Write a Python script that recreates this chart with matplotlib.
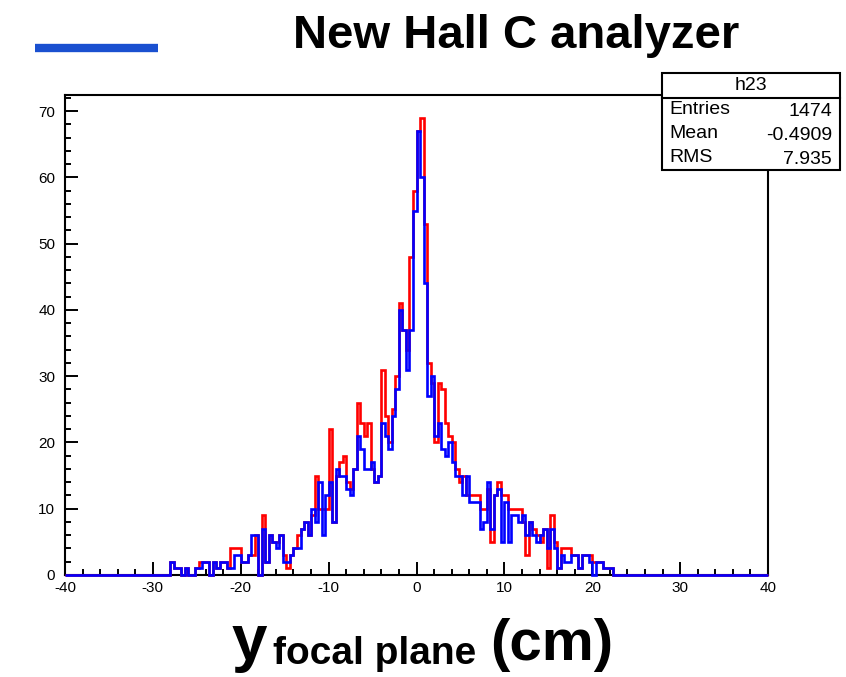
import numpy as np
import matplotlib
matplotlib.use("Agg")
import matplotlib.pyplot as plt
from matplotlib.ticker import MultipleLocator
from matplotlib.patches import Rectangle
from matplotlib.lines import Line2D

# histogram binning (ROOT style, 200 bins over -40..40)
X_MIN, X_MAX, N_BINS = -40.0, 40.0, 200
FIRST_EDGE = -28.0   # left edge of the first filled bin

# counts per 0.4 cm bin starting at FIRST_EDGE (old analyzer, red)
red_counts = [
    2, 1, 1, 0, 1, 0, 0, 1, 2, 2,
    2, 0, 2, 1, 2, 2, 1, 4, 4, 4,
    2, 2, 3, 3, 6, 0, 9, 2, 6, 5,
    5, 6, 3, 1, 3, 4, 6, 7, 8, 6,
    9, 15, 10, 10, 10, 22, 8, 15, 17, 18,
    14, 13, 16, 26, 23, 21, 23, 16, 14, 15,
    31, 24, 20, 25, 30, 41, 37, 34, 48, 58,
    67, 69, 53, 32, 29, 20, 29,
    28, 23, 21, 20, 16, 14, 15, 12, 12, 12,
    12, 10, 10, 13, 5, 12, 14, 12, 12, 10,
    10, 10, 10, 8, 3, 8, 7, 6, 5, 7,
    1, 9, 5, 1, 4, 4, 4, 3, 3, 1,
    3, 3, 3, 2, 2, 2, 1, 1, 1,
]

# new Hall C analyzer (blue)
blue_counts = [
    2, 1, 1, 0, 1, 0, 0, 1, 1, 2,
    2, 0, 2, 1, 2, 2, 1, 1, 3, 3,
    2, 2, 3, 6, 6, 0, 7, 2, 6, 5,
    4, 6, 2, 2, 3, 4, 4, 7, 8, 6,
    10, 8, 14, 6, 12, 14, 8, 16, 15, 15,
    13, 12, 16, 21, 19, 16, 16, 17, 14, 15,
    23, 21, 19, 24, 28, 40, 37, 31, 37, 55,
    67, 60, 44, 27, 30, 21, 23,
    19, 18, 20, 17, 15, 15, 12, 15, 11, 11,
    11, 7, 8, 14, 7, 12, 13, 5, 11, 5,
    9, 9, 8, 9, 6, 8, 6, 5, 6, 7,
    4, 7, 4, 1, 3, 2, 2, 3, 3, 1,
    3, 3, 2, 0, 2, 2, 1, 1, 1,
]

title = "New Hall C analyzer"
stats_name = "h23"
stats_labels = ["Entries", "Mean", "RMS"]
stats_values = ["1474", "-0.4909", "7.935"]

W, H = 846, 677
FONT = ["Liberation Sans", "DejaVu Sans"]


def fx(px):
    return px / W


def fy(py):
    return 1 - py / H


def pad_counts(counts, edges):
    full = np.zeros(N_BINS)
    start = int(round((FIRST_EDGE - X_MIN) / (edges[1] - edges[0])))
    full[start:start + len(counts)] = counts
    return full


def main():
    plt.rcParams["font.family"] = FONT
    plt.rcParams["axes.unicode_minus"] = False
    edges = np.linspace(X_MIN, X_MAX, N_BINS + 1)

    fig = plt.figure(figsize=(W / 100, H / 100), dpi=100)
    ax = fig.add_axes([fx(65), fy(575), fx(768) - fx(65), fy(95) - fy(575)])

    ax.stairs(pad_counts(red_counts, edges), edges, color="#ff0000",
              lw=1.9, zorder=3, clip_on=False)
    ax.stairs(pad_counts(blue_counts, edges), edges, color="#0000ff",
              lw=1.9, zorder=4, clip_on=False)

    ax.set_xlim(X_MIN, X_MAX)
    ax.set_ylim(0, 72.45)
    ax.xaxis.set_major_locator(MultipleLocator(10))
    ax.xaxis.set_minor_locator(MultipleLocator(2))
    ax.yaxis.set_major_locator(MultipleLocator(10))
    ax.yaxis.set_minor_locator(MultipleLocator(2))
    ax.tick_params(which="both", direction="in", top=False, right=False,
                   width=1.4, labelsize=11)
    ax.tick_params(which="major", length=9.5)
    ax.tick_params(which="minor", length=4.5)
    ax.tick_params(axis="x", pad=4)
    ax.tick_params(axis="y", pad=7)
    for s in ax.spines.values():
        s.set_linewidth(1.5)

    # title and legend line
    fig.text(fx(293), fy(48), title, fontsize=34, fontweight="bold",
             ha="left", va="baseline")
    fig.add_artist(Line2D([fx(35), fx(158)], [fy(47.5), fy(47.5)],
                          color="#1a50d0", lw=6, solid_capstyle="butt"))

    # x axis label
    fig.text(fx(232), fy(660), "y", fontsize=46, fontweight="bold",
             ha="left", va="baseline")
    fig.text(fx(273), fy(664), "focal plane", fontsize=28, fontweight="bold",
             ha="left", va="baseline")
    fig.text(fx(490), fy(660), "(cm)", fontsize=42, fontweight="bold",
             ha="left", va="baseline")

    # stats box
    bx0, bx1, by0, by1, hy = 662, 840, 73, 170, 98
    fig.add_artist(Rectangle((fx(bx0), fy(by1)), fx(bx1) - fx(bx0),
                             fy(by0) - fy(by1), facecolor="white",
                             edgecolor="black", lw=1.5, zorder=10))
    fig.add_artist(Line2D([fx(bx0), fx(bx1)], [fy(hy), fy(hy)],
                          color="black", lw=1.5, zorder=11))
    fig.text(fx((bx0 + bx1) / 2), fy(86), stats_name, fontsize=14,
             ha="center", va="center", zorder=12)
    row_y = [110, 133, 157]
    for lab, val, ry in zip(stats_labels, stats_values, row_y):
        fig.text(fx(669), fy(ry), lab, fontsize=14, ha="left",
                 va="center", zorder=12)
        fig.text(fx(832), fy(ry + 2), val, fontsize=14, ha="right",
                 va="center", zorder=12)

    fig.savefig("out.png", dpi=100)
    plt.close(fig)


if __name__ == "__main__":
    main()
